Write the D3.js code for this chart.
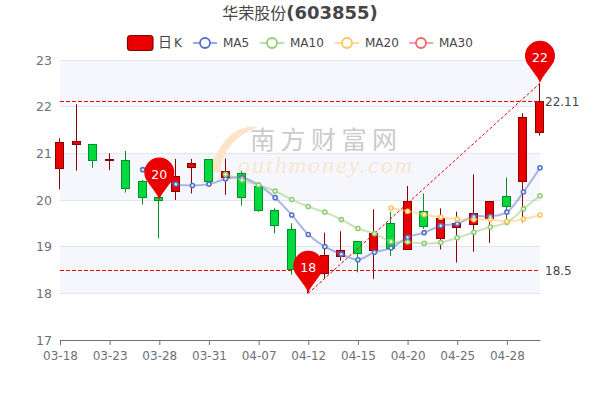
<!DOCTYPE html>
<html><head><meta charset="utf-8">
<style>html,body{margin:0;padding:0;background:#fff}svg{display:block}text{font-family:"DejaVu Sans",sans-serif}</style>
<script src="https://cdn.jsdelivr.net/npm/d3@7"></script></head><body>
<svg id="c" width="600" height="400"></svg>
<script>
const dates=["03-18","03-19","03-22","03-23","03-24","03-25","03-28","03-29","03-30","03-31","04-01","04-06","04-07","04-08","04-11","04-12","04-13","04-14","04-15","04-18","04-19","04-20","04-21","04-22","04-25","04-26","04-27","04-28","04-29","05-05"];
const opens=[20.68,21.19,21.19,20.84,20.85,20.40,20.06,20.19,20.69,20.86,20.49,20.56,20.29,19.78,19.36,18.30,18.41,18.80,19.11,18.92,19.49,18.93,19.75,19.18,19.40,19.48,19.60,20.08,20.39,21.45];
const closes=[21.24,21.26,20.84,20.87,20.24,20.05,20.00,20.51,20.78,20.38,20.61,20.04,19.78,19.45,18.51,18.70,18.80,18.92,18.85,19.29,18.95,19.96,19.43,19.60,19.49,19.72,19.97,19.87,21.77,22.11];
const lows=[20.23,20.63,20.69,20.64,20.16,19.90,19.18,20.00,20.14,20.38,20.11,19.88,19.75,19.29,18.40,18.00,18.32,18.70,18.45,18.31,18.80,18.93,19.38,18.94,18.66,18.89,19.08,19.57,19.52,21.38];
const highs=[21.32,22.05,21.19,21.00,21.05,20.43,20.06,20.88,20.88,20.86,20.89,20.62,20.30,19.82,19.50,18.90,19.30,19.33,19.11,19.80,19.75,20.30,20.14,19.82,19.75,20.55,19.97,20.48,21.86,22.50];
const ma5=[null,null,null,null,null,20.65,20.50,20.34,20.31,20.34,20.45,20.48,20.32,20.05,19.68,19.26,19.00,18.84,18.72,18.88,18.97,19.20,19.30,19.45,19.49,19.65,19.65,19.74,20.17,20.69];
const ma10=[null,null,null,null,null,null,null,null,null,null,20.55,20.43,20.32,20.19,20.01,19.86,19.74,19.58,19.39,19.28,19.11,19.10,19.07,19.09,19.19,19.31,19.42,19.52,19.81,20.09];
const ma20=[null,null,null,null,null,null,null,null,null,null,null,null,null,null,null,null,null,null,null,null,19.83,19.76,19.69,19.63,19.59,19.58,19.58,19.54,19.59,19.68];
const ma30=[];
const yTicks=[17,18,19,20,21,22,23];
const bandPairs=[[22,23],[20,21],[18,19]];
const xLabelEvery=3;
const pinIdx=[6,15,29], pinVal=[20,18,22.5], pinText=["20","18","22"];
const hLines=[22.11,18.5], hLabels=["22.11","18.5"];
const trendFrom=[15,18], trendTo=[29,22.5];
const legendSeries=["MA5","MA10","MA20","MA30"];

const svg=d3.select("#c");
const x=d3.scalePoint().domain(d3.range(dates.length)).range([60,540]);
const y=d3.scaleLinear().domain([17,23]).range([340,60]);
const snap=v=>Math.round(v-0.5)+0.5;
const RED="#eb0000",REDB="#8a0000",GRN="#00da3c",GRNB="#008f28";

svg.append("g").selectAll("rect").data(bandPairs).join("rect")
 .attr("x",60).attr("width",480).attr("y",d=>y(d[1])).attr("height",d=>y(d[0])-y(d[1])).attr("fill","#f5f7fc");
svg.append("g").selectAll("line").data(yTicks.slice(1)).join("line")
 .attr("x1",60).attr("x2",540).attr("y1",d=>snap(y(d))).attr("y2",d=>snap(y(d))).attr("stroke","#e0e6f1");

// watermark
const wm=svg.append("g");
const swoosh=d3.path();
swoosh.moveTo(258,127);swoosh.bezierCurveTo(236,124,222,140,214,160);
swoosh.quadraticCurveTo(208,168,202,174);swoosh.lineTo(220,172);swoosh.bezierCurveTo(222,152,234,136,258,127);
wm.append("path").attr("d",swoosh.toString()).attr("fill","#fbe4c8");
wm.append("text").attr("x",250).attr("y",149).text("南方财富网").attr("font-size",25).attr("letter-spacing",5.5)
 .style("font-family",'"Noto Sans CJK SC"').attr("fill","#cbcbcb");
wm.append("text").attr("x",238).attr("y",173).text("outhmoney.com").attr("font-size",24).attr("letter-spacing",2)
 .style("font-family",'"Liberation Serif"').attr("font-style","italic").attr("fill","#f8e6d2");

// axes
const xAxis=d3.axisBottom(x).tickValues(d3.range(0,dates.length,xLabelEvery)).tickFormat(i=>dates[i]).tickSize(5).tickPadding(6);
const gx=svg.append("g").attr("transform","translate(0,340)").call(xAxis);
gx.select(".domain").attr("stroke","#6e7079").attr("d","M60.5,0.5H540.5");
gx.selectAll("line").attr("stroke","#6e7079");
gx.selectAll("text").attr("font-size",12).attr("fill","#6e7079").style("font-family",'"DejaVu Sans"');
const yAxis=d3.axisLeft(y).tickValues(yTicks).tickFormat(d3.format("d")).tickSize(0).tickPadding(8);
const gy=svg.append("g").attr("transform","translate(60,0)").call(yAxis);
gy.select(".domain").remove();
gy.selectAll("text").attr("font-size",12.5).attr("fill","#6e7079").style("font-family",'"DejaVu Sans"');

// candles
const cx=i=>snap(x(i)-0.5);
const cg=svg.append("g").selectAll("g").data(d3.range(dates.length)).join("g");
cg.append("line").attr("x1",cx).attr("x2",cx).attr("y1",i=>y(highs[i])).attr("y2",i=>y(lows[i]))
 .attr("stroke",i=>closes[i]>=opens[i]?REDB:GRNB);
cg.append("rect").attr("x",i=>cx(i)-4).attr("width",8)
 .attr("y",i=>snap(y(Math.max(opens[i],closes[i])))).attr("height",i=>Math.max(1,Math.round(Math.abs(y(opens[i])-y(closes[i])))))
 .attr("fill",i=>closes[i]>=opens[i]?RED:GRN).attr("stroke",i=>closes[i]>=opens[i]?REDB:GRNB);

// hlines
const hg=svg.append("g");
hg.selectAll("line").data(hLines).join("line").attr("x1",60).attr("x2",540).attr("y1",d=>snap(y(d))).attr("y2",d=>snap(y(d)))
 .attr("stroke",RED).attr("stroke-dasharray","4 2");
hg.selectAll("text").data(hLabels).join("text").attr("x",545).attr("y",(d,i)=>y(hLines[i])+4.5).text(d=>d)
 .attr("font-size",12).attr("fill","#464646");
svg.append("line").attr("x1",x(trendFrom[0])).attr("y1",y(trendFrom[1])).attr("x2",x(trendTo[0])).attr("y2",y(trendTo[1]))
 .attr("stroke",RED).attr("stroke-dasharray","3 2");

// MA lines
function maLine(vals,color){
  const pts=vals.map((v,i)=>[i,v]).filter(d=>d[1]!=null);
  if(!pts.length) return;
  const g=svg.append("g");
  g.append("path").attr("fill","none").attr("stroke",color).attr("stroke-opacity",0.5).attr("stroke-width",2)
   .attr("d",d3.line().x(d=>x(d[0])).y(d=>y(d[1])).curve(d3.curveCatmullRom.alpha(0.5))(pts));
  g.selectAll("circle").data(pts).join("circle").attr("cx",d=>x(d[0])).attr("cy",d=>y(d[1])).attr("r",2)
   .attr("fill","#fff").attr("stroke",color).attr("stroke-width",1.6);
}
const colors=["#5470c6","#91cc75","#fbc65f","#ee6666"];
[ma5,ma10,ma20,ma30].forEach((s,i)=>maLine(s,colors[i]));

// pins
const pins=svg.append("g").selectAll("g").data(pinIdx).join("g")
 .attr("transform",(d,i)=>`translate(${x(d)},${y(pinVal[i])})`);
pins.append("path").attr("d","M0,0 C-2,-6 -6,-10 -10.5,-16.5 C-13.5,-20 -15,-23.5 -15,-27.5 A15,15 0 1 1 15,-27.5 C15,-23.5 13.5,-20 10.5,-16.5 C6,-10 2,-6 0,0 Z").attr("fill","#eb0000");
pins.append("text").attr("y",-21.5).attr("text-anchor","middle").attr("font-size",12.5).attr("fill","#fff").text((d,i)=>pinText[i]);

// title
const t=svg.append("text").attr("x",300).attr("y",19).attr("text-anchor","middle").attr("fill","#464646").attr("font-size",18);
t.append("tspan").text("华荣股份").style("font-family",'"Noto Sans CJK SC"').attr("font-size",16);
t.append("tspan").text("(603855)").attr("font-weight",700);

// legend
const lg=svg.append("g");
lg.append("rect").attr("x",127.5).attr("y",35.5).attr("width",25.5).attr("height",15).attr("rx",3).attr("fill",RED).attr("stroke",REDB).attr("stroke-width",1.2);
const lk=lg.append("text").attr("x",158).attr("y",47).attr("fill","#464646").attr("font-size",12);
lk.append("tspan").text("日").attr("font-size",14).style("font-family",'"Noto Sans CJK SC"');
lk.append("tspan").text("K").attr("dx",2);
const legX=[193,260,335,409], legL=[223,290,365,439];
legendSeries.forEach((s,i)=>{
  lg.append("line").attr("x1",legX[i]).attr("x2",legX[i]+24).attr("y1",43).attr("y2",43).attr("stroke",colors[i]).attr("stroke-width",2).attr("stroke-opacity",.6);
  lg.append("circle").attr("cx",legX[i]+12).attr("cy",43).attr("r",5).attr("fill","#fff").attr("stroke",colors[i]).attr("stroke-width",1.8);
  lg.append("text").attr("x",legL[i]).attr("y",47).attr("fill","#464646").attr("font-size",12).text(s);
});
</script></body></html>
